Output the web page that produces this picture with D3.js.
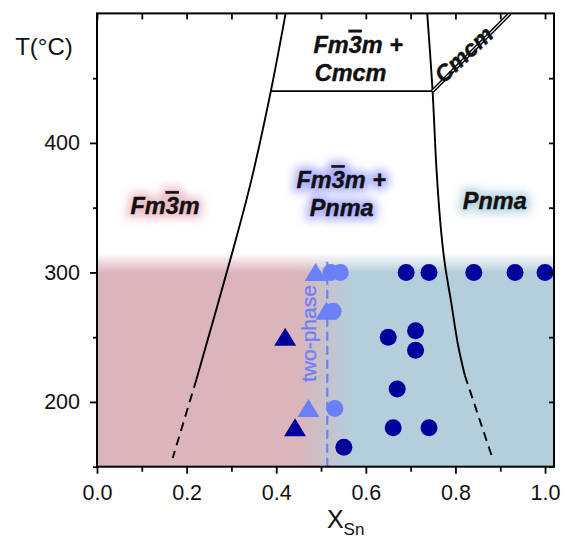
<!DOCTYPE html>
<html><head><meta charset="utf-8">
<script src="https://cdn.jsdelivr.net/npm/d3@7"></script>
<style>body{margin:0;background:#fff} svg{display:block}</style>
</head><body><svg id="c" width="564" height="548"></svg>
<script>
// ---- data ----
const xTicks = [0, 0.2, 0.4, 0.6, 0.8, 1.0];
const xMinor = [0.1, 0.3, 0.5, 0.7, 0.9];
const yTicks = [200, 300, 400];
const yMinor = [150, 250, 350, 450];

const leftSolidX = [0.421, 0.388, 0.344, 0.303, 0.222];
const leftSolidT = [500, 440, 370.5, 316.7, 217.5];
const leftDashX = [0.222, 0.169];
const leftDashT = [217.5, 156.7];
const rightSolidX = [0.737, 0.749, 0.758, 0.768, 0.777, 0.790, 0.806, 0.821];
const rightSolidT = [500, 440, 378, 332, 305, 278, 243.6, 220.5];
const rightDashX = [0.821, 0.884];
const rightDashT = [220.5, 155.2];
const tieX = [0.388, 0.749];
const tieT = [440, 440];
const cmcmLineX = [0.749, 0.922];
const cmcmLineT = [440, 500];
const twoPhaseX = 0.514;
const twoPhaseT = [150, 310];

const darkCircleX = [0.69, 0.741, 0.841, 0.933, 1.0, 0.711, 0.65, 0.711, 0.67, 0.661, 0.741, 0.551];
const darkCircleT = [300, 300, 300, 300, 300, 255, 250, 240, 210, 180, 180, 165];
const darkTriX = [0.42, 0.442];
const darkTriT = [250, 180];
const lightTriX = [0.488, 0.512, 0.472];
const lightTriT = [300, 270, 195];
const lightCircleX = [0.522, 0.543, 0.527, 0.531];
const lightCircleT = [300, 300, 270, 195];

// ---- layout ----
const L = 97, R = 554, T0 = 13.4, B = 466.7;
const svg = d3.select('#c');
const x = d3.scaleLinear().domain([0, 1.02]).range([L, R]);
const y = d3.scaleLinear().domain([150, 500]).range([B, T0]);
const FONT = 'Liberation Sans, Arial, Helvetica, sans-serif';
const DARK = '#00009c', LIGHT = '#6a80f7';

const defs = svg.append('defs');
defs.append('clipPath').attr('id', 'plot').append('rect')
  .attr('x', L).attr('y', T0).attr('width', R - L).attr('height', B - T0);
const hg = defs.append('linearGradient').attr('id', 'hg').attr('gradientUnits', 'userSpaceOnUse')
  .attr('x1', x(0.45)).attr('x2', x(0.57)).attr('y1', 0).attr('y2', 0);
hg.append('stop').attr('offset', 0).attr('stop-color', '#dbb4bc');
hg.append('stop').attr('offset', 1).attr('stop-color', '#b3cfdb');
const vg = defs.append('linearGradient').attr('id', 'vg').attr('gradientUnits', 'userSpaceOnUse')
  .attr('x1', 0).attr('x2', 0).attr('y1', y(315)).attr('y2', y(300));
vg.append('stop').attr('offset', 0).attr('stop-color', '#fff').attr('stop-opacity', 1);
vg.append('stop').attr('offset', 1).attr('stop-color', '#fff').attr('stop-opacity', 0);
const blur = defs.append('filter').attr('id', 'glow').attr('x', '-40%').attr('y', '-80%').attr('width', '180%').attr('height', '260%');
blur.append('feGaussianBlur').attr('stdDeviation', 5);

const g = svg.append('g').attr('clip-path', 'url(#plot)');
// background
g.append('rect').attr('x', L).attr('width', R - L).attr('y', y(315)).attr('height', B - y(315)).attr('fill', 'url(#hg)');
g.append('rect').attr('x', L).attr('width', R - L).attr('y', y(315)).attr('height', y(300) - y(315)).attr('fill', 'url(#vg)');

// boundaries
const zip = (xs, ts) => xs.map((v, i) => [v, ts[i]]);
const line = d3.line().x(d => x(d[0])).y(d => y(d[1]));
const cline = d3.line().x(d => x(d[0])).y(d => y(d[1])).curve(d3.curveCatmullRom);
const LW = 1.9;
g.append('path').attr('d', cline(zip(leftSolidX, leftSolidT))).attr('fill', 'none').attr('stroke', '#000').attr('stroke-width', LW);
g.append('path').attr('d', line(zip(leftDashX, leftDashT))).attr('fill', 'none').attr('stroke', '#000').attr('stroke-width', LW).attr('stroke-dasharray', '9,6');
g.append('path').attr('d', cline(zip(rightSolidX, rightSolidT))).attr('fill', 'none').attr('stroke', '#000').attr('stroke-width', LW);
g.append('path').attr('d', line(zip(rightDashX, rightDashT))).attr('fill', 'none').attr('stroke', '#000').attr('stroke-width', LW).attr('stroke-dasharray', '9,6');
g.append('path').attr('d', line(zip(tieX, tieT))).attr('fill', 'none').attr('stroke', '#000').attr('stroke-width', LW);
g.append('path').attr('d', line(zip(cmcmLineX, cmcmLineT))).attr('fill', 'none').attr('stroke', '#000').attr('stroke-width', 4);
g.append('path').attr('d', line(zip(cmcmLineX, cmcmLineT))).attr('fill', 'none').attr('stroke', '#fff').attr('stroke-width', 1.1);

// markers
const tri = (cx, cy) => `M${cx},${cy - 9.5}L${cx + 11},${cy + 8.5}L${cx - 11},${cy + 8.5}Z`;
g.selectAll('.lt').data(zip(lightTriX, lightTriT)).join('path')
  .attr('d', d => tri(x(d[0]), y(d[1]))).attr('fill', LIGHT);
g.selectAll('.lc').data(zip(lightCircleX, lightCircleT)).join('circle')
  .attr('cx', d => x(d[0])).attr('cy', d => y(d[1])).attr('r', 8.5).attr('fill', LIGHT);
g.append('line').attr('x1', x(twoPhaseX)).attr('x2', x(twoPhaseX)).attr('y1', y(twoPhaseT[0])).attr('y2', y(twoPhaseT[1]))
  .attr('stroke', LIGHT).attr('stroke-width', 2.2).attr('stroke-dasharray', '9,5');
g.selectAll('.dt').data(zip(darkTriX, darkTriT)).join('path')
  .attr('d', d => tri(x(d[0]), y(d[1]))).attr('fill', DARK);
g.selectAll('.dc').data(zip(darkCircleX, darkCircleT)).join('circle')
  .attr('cx', d => x(d[0])).attr('cy', d => y(d[1])).attr('r', 8.5).attr('fill', DARK);

// phase labels
function phase(parent, X, Tv, parts, size, glow) {
  const mk = () => {
    const t = parent.append('text').attr('x', x(X)).attr('y', y(Tv)).attr('text-anchor', 'middle')
      .attr('font-family', FONT).attr('font-weight', 'bold').attr('font-style', 'italic').attr('font-size', size);
    parts.forEach(p => {
      const s = t.append('tspan').text(p[0]);
      if (p[1]) s.style('text-decoration', 'overline');
    });
    return t;
  };
  if (glow) {
    mk().attr('fill', glow).attr('stroke', glow).attr('stroke-width', 8).attr('filter', 'url(#glow)').attr('opacity', 0.75);
  }
  return mk().attr('fill', '#111').attr('stroke', '#111').attr('stroke-width', 0.4);
}
const FM = [['Fm'], ['3', true], ['m']];
phase(svg, 0.583, 469.5, FM.concat([[' +']]), 23.5);
phase(svg, 0.566, 447.5, [['Cmcm']], 23.5);
phase(svg, 0.152, 345, FM, 23.5, '#e6a7b3');
phase(svg, 0.545, 365, FM.concat([[' +']]), 23.5, '#8f93ff');
phase(svg, 0.546, 343.5, [['Pnma']], 23.5, '#8f93ff');
phase(svg, 0.888, 349, [['Pnma']], 23.5, '#9cc7d9');
phase(svg, 0, 0, [['Cmcm']], 23).attr('x', 0).attr('y', 0)
  .attr('transform', `translate(${x(0.818)},${y(468.5)}) rotate(-43)`).attr('dy', '0.36em');

svg.append('text').attr('transform', `translate(${x(0.472)},${y(252.8)}) rotate(-90)`)
  .attr('text-anchor', 'middle').attr('dy', '0.35em').attr('font-family', FONT).attr('font-size', 21)
  .attr('fill', LIGHT).attr('stroke', LIGHT).attr('stroke-width', 0.3).text('two-phase');

// axes
const ax = svg.append('g').attr('font-family', FONT);
ax.append('g').attr('transform', `translate(0,${B})`)
  .call(d3.axisBottom(x).tickValues(xTicks).tickFormat(d3.format('.1f')).tickSize(7).tickPadding(11).tickSizeOuter(0));
ax.append('g').attr('transform', `translate(0,${B})`)
  .call(d3.axisBottom(x).tickValues(xMinor).tickFormat('').tickSize(5).tickSizeOuter(0));
ax.append('g').attr('transform', `translate(0,${T0})`)
  .call(d3.axisBottom(x).tickValues(xTicks.concat(xMinor)).tickFormat('').tickSize(6).tickSizeOuter(0));
ax.append('g').attr('transform', `translate(${L},0)`)
  .call(d3.axisLeft(y).tickValues(yTicks).tickSize(7).tickPadding(10).tickSizeOuter(0));
ax.append('g').attr('transform', `translate(${L},0)`)
  .call(d3.axisLeft(y).tickValues(yMinor).tickFormat('').tickSize(4).tickSizeOuter(0));
ax.append('g').attr('transform', `translate(${R},0)`)
  .call(d3.axisRight(y).tickValues(yTicks.concat(yMinor)).tickFormat('').tickSize(-5).tickSizeOuter(0));
ax.selectAll('.domain').remove();
ax.selectAll('line').attr('stroke', '#000').attr('stroke-width', 1.8);
ax.selectAll('text').attr('font-size', 21.5).attr('fill', '#111').attr('font-family', FONT);
svg.append('rect').attr('x', L).attr('y', T0).attr('width', R - L).attr('height', B - T0)
  .attr('fill', 'none').attr('stroke', '#000').attr('stroke-width', 2);

// titles
svg.append('text').attr('x', 44).attr('y', 55).attr('text-anchor', 'middle').attr('font-family', FONT)
  .attr('font-size', 24).attr('fill', '#111').text('T(°C)');
const xt = svg.append('text').attr('x', x(0.555)).attr('y', 528).attr('text-anchor', 'middle')
  .attr('font-family', FONT).attr('font-size', 25).attr('fill', '#111');
xt.append('tspan').text('X');
xt.append('tspan').attr('font-size', 17).attr('dy', 7).text('Sn');
</script></body></html>
